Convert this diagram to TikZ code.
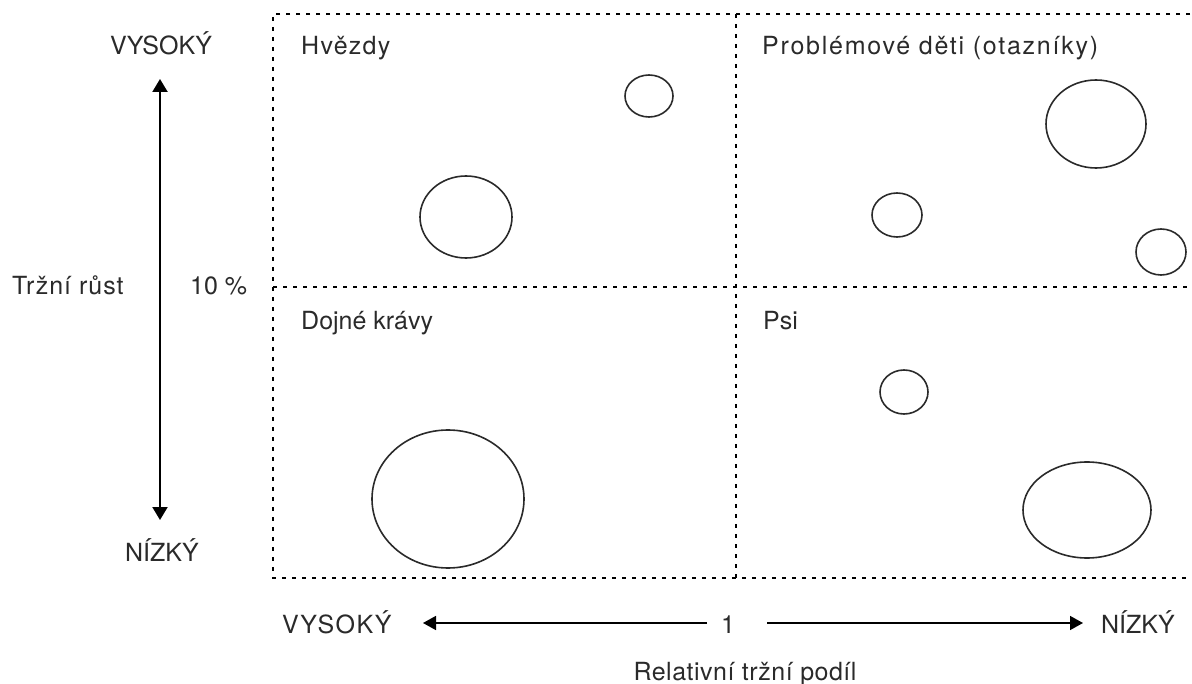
\documentclass[tikz,border=0pt]{standalone}
\usepackage{fontspec}
\setmainfont{TeX Gyre Heros}
\usetikzlibrary{arrows.meta}
\definecolor{ink}{HTML}{2A2A2A}
\tikzset{
  lbl/.style={inner sep=0pt, text=ink, font=\fontsize{25}{30}\selectfont},
  tracked/.style={font=\fontsize{25}{30}\selectfont\addfontfeatures{LetterSpace=#1}},
  gridline/.style={line width=2.3pt, dash pattern=on 4pt off 6pt, black},
  bubble/.style={draw=ink, line width=1.6pt},
  axis/.style={line width=2.2pt, black, -{Triangle[length=13pt,width=15pt]}},
  haxis/.style={line width=1.6pt, black, -{Triangle[length=13pt,width=14pt]}}
}
\begin{document}
\begin{tikzpicture}[x=1pt,y=-1pt]
\useasboundingbox (0,0) rectangle (1192,684);

% quadrant grid
\coordinate (tl) at (273,14);
\coordinate (tr) at (1190,14);
\coordinate (ml) at (273,287);
\coordinate (mr) at (1190,287);
\coordinate (bl) at (273,578);
\coordinate (br) at (1190,578);
\coordinate (mt) at (736,14);
\coordinate (mb) at (736,578);
\draw[gridline] (tr) -- (tl) -- (bl) -- (br);
\draw[gridline] (ml) -- (mr);
\draw[gridline] (mt) -- (mb);

% quadrant titles
\node[lbl, tracked=5, anchor=base west] (stars) at (301,55) {Hvězdy};
\node[lbl, tracked=7, anchor=base west] (qmarks) at (762,55) {Problémové děti (otazníky)};
\node[lbl, anchor=base west] (cows) at (301,330) {Dojné krávy};
\node[lbl, anchor=base west] (dogs) at (763,330) {Psi};

% business units
\draw[bubble] (649,96) ellipse [x radius=24, y radius=21];
\draw[bubble] (466,217) ellipse [x radius=46, y radius=41];
\draw[bubble] (1096,124) ellipse [x radius=50, y radius=44];
\draw[bubble] (897,215) ellipse [x radius=25, y radius=22];
\draw[bubble] (1161,252) ellipse [x radius=25, y radius=23];
\draw[bubble] (448,499) ellipse [x radius=76, y radius=69];
\draw[bubble] (904,392) ellipse [x radius=24, y radius=22];
\draw[bubble] (1087,510) ellipse [x radius=64, y radius=48];

% vertical axis: market growth
\node[lbl, anchor=base] (vhigh) at (161,55) {VYSOKÝ};
\node[lbl, anchor=base] (vlow) at (162,561) {NÍZKÝ};
\node[lbl, tracked=4, anchor=base west] (growth) at (12,295) {Tržní růst};
\node[lbl, anchor=base west] (ten) at (190,295) {10 \%};
\coordinate (vtop) at (160,79);
\coordinate (vbot) at (160,520);
\coordinate (vmid) at (160,300);
\draw[axis] (vmid) -- (vtop);
\draw[axis] (vmid) -- (vbot);

% horizontal axis: relative market share
\node[lbl, tracked=6, anchor=base west] (hhigh) at (282,633) {VYSOKÝ};
\node[lbl, anchor=base] (one) at (728,633) {1};
\node[lbl, anchor=base east] (hlow) at (1175,633) {NÍZKÝ};
\node[lbl, tracked=2, anchor=base] (share) at (745,680) {Relativní tržní podíl};
\coordinate (hleftstart) at (707,623);
\coordinate (hleftend) at (423,623);
\coordinate (hrightstart) at (767,623);
\coordinate (hrightend) at (1083,623);
\draw[haxis] (hleftstart) -- (hleftend);
\draw[haxis] (hrightstart) -- (hrightend);
\end{tikzpicture}
\end{document}
